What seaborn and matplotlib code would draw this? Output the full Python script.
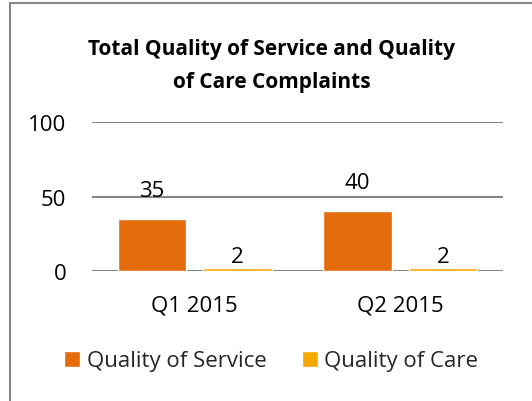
import matplotlib
matplotlib.use("Agg")
import matplotlib.pyplot as plt
from matplotlib.lines import Line2D
import seaborn as sns
import pandas as pd

categories = ["Q1 2015", "Q2 2015"]
series_names = ["Quality of Service", "Quality of Care"]
service_values = [35, 40]
care_values = [2, 2]
y_ticks = [0, 50, 100]
title = "Total Quality of Service and Quality\nof Care Complaints"
colors = ["#E46C0A", "#F5A800"]

df = pd.DataFrame({
    "Quarter": categories * 2,
    "Series": [series_names[0]] * 2 + [series_names[1]] * 2,
    "Value": service_values + care_values,
})

sns.set_theme(style="white")
plt.rcParams["font.family"] = ["Open Sans", "DejaVu Sans"]

fig = plt.figure(figsize=(5.32, 4.02), dpi=100)
ax = fig.add_axes([92 / 532, 1 - 272 / 402, (503 - 92) / 532, (272 - 123) / 402])

sns.barplot(data=df, x="Quarter", y="Value", hue="Series", palette=colors,
            width=0.83, gap=0.2, ax=ax, zorder=3, saturation=1)

ax.set_ylim(0, 100)
ax.set_yticks(y_ticks)
ax.yaxis.grid(True, color="#868686", linewidth=1.5, zorder=0)
ax.set_axisbelow(True)
for s in ax.spines.values():
    s.set_visible(False)
ax.set_xlabel("")
ax.set_ylabel("")
ax.tick_params(axis="y", labelsize=16, pad=18.5, length=0, colors="#000000")
ax.tick_params(axis="x", labelsize=16, pad=17, length=0, colors="#000000")

pads = [13, 1]
for cont, p in zip(ax.containers, pads):
    ax.bar_label(cont, fmt="%g", padding=p, fontsize=16, color="#000000")

fig.text(0.51, 1 - 66 / 402, title, ha="center", va="center", fontsize=15,
         fontweight="bold", linespacing=1.75, color="#000000")

handles, labels = ax.get_legend_handles_labels()
ax.legend(handles, labels, loc="center", bbox_to_anchor=(0.51, 1 - 362 / 402),
          bbox_transform=fig.transFigure, ncol=2, frameon=False, fontsize=16,
          handlelength=0.7, handleheight=0.7, handletextpad=0.3, columnspacing=1.6)

fig.add_artist(Line2D([10 / 532, 10 / 532], [0, 1 - 4 / 402], transform=fig.transFigure,
                      color="#888888", linewidth=1.5))
fig.add_artist(Line2D([10 / 532, 1], [1 - 4 / 402, 1 - 4 / 402], transform=fig.transFigure,
                      color="#888888", linewidth=1.5))

fig.savefig("out.png", dpi=100)
